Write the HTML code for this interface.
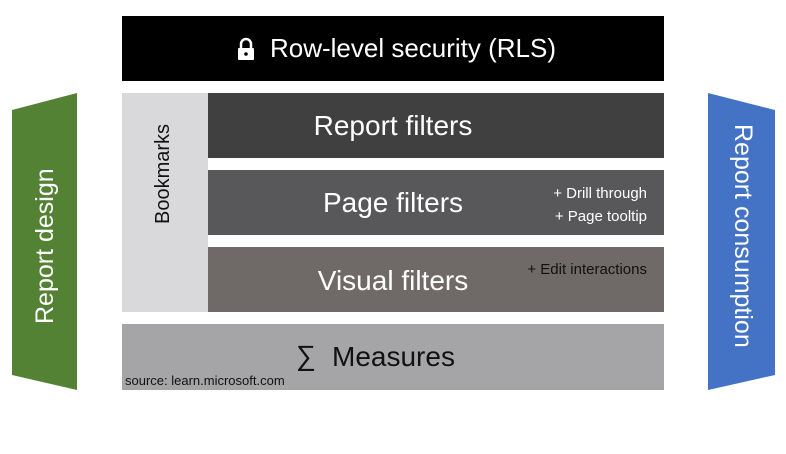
<!DOCTYPE html>
<html><head><style>
body{margin:0;width:786px;height:454px;background:#fff;position:relative;overflow:hidden;font-family:"Liberation Sans",sans-serif}
.b{position:absolute;color:#fff}
.c{position:absolute;left:122px;width:542px;text-align:center;color:#fff;white-space:nowrap}
.t{position:absolute;color:#fff;white-space:nowrap}
</style></head><body>
<svg width="786" height="454" style="position:absolute;left:0;top:0">
<polygon points="12,110 77,93 77,390 12,375" fill="#548235"/>
<polygon points="708,93 775,110 775,375 708,390" fill="#4472c4"/>
<path d="M151,240 h28 v54 l-14,-14 l-14,14 z" fill="#000"/>
</svg>
<div class="b" style="left:122px;top:16px;width:542px;height:65px;background:#000;font-size:26px;display:flex;align-items:center;justify-content:center;padding-left:6px;box-sizing:border-box">
<svg width="20" height="24" style="margin-right:14px"><path d="M5,11 V7 a5,5 0 0 1 10,0 V11" stroke="#fff" stroke-width="2.5" fill="none"/><rect x="2" y="11" width="16" height="12" rx="1" fill="#fff"/><circle cx="10" cy="17" r="1.8" fill="#000"/></svg>Row-level security (RLS)</div>
<div style="position:absolute;left:122px;top:93px;width:86px;height:219px;background:#d9d9db"></div>
<div class="t" style="left:152px;top:224px;color:#111;font-size:20px;transform:rotate(-90deg);transform-origin:0 0">Bookmarks</div>
<div class="b" style="left:208px;top:93px;width:456px;height:65px;background:#404040"></div>
<div class="b" style="left:208px;top:170px;width:456px;height:65px;background:#58585a"></div>
<div class="b" style="left:208px;top:247px;width:456px;height:65px;background:#6f6a68"></div>
<div class="c" style="top:110px;font-size:28px">Report filters</div>
<div class="c" style="top:187px;font-size:28px">Page filters</div>
<div class="c" style="top:265px;font-size:28px">Visual filters</div>
<div class="t" style="left:500px;top:182px;font-size:15px;line-height:23px;text-align:right;width:147px">+ Drill through<br>+ Page tooltip</div>
<div class="t" style="left:490px;top:261px;font-size:15px;width:157px;text-align:right;color:#111">+ Edit interactions</div>
<div class="b" style="left:122px;top:324px;width:542px;height:66px;background:#a5a5a7"></div>
<div class="t" style="left:296px;top:340px;font-size:28px;color:#111">∑</div>
<div class="t" style="left:332px;top:341px;font-size:28px;color:#111">Measures</div>
<div class="t" style="left:125px;top:373px;font-size:13px;color:#111">source: learn.microsoft.com</div>
<div class="t" style="left:31px;top:324px;font-size:25px;transform:rotate(-90deg);transform-origin:0 0">Report design</div>
<div class="t" style="left:757px;top:124px;font-size:25px;transform:rotate(90deg);transform-origin:0 0">Report consumption</div>
</body></html>
